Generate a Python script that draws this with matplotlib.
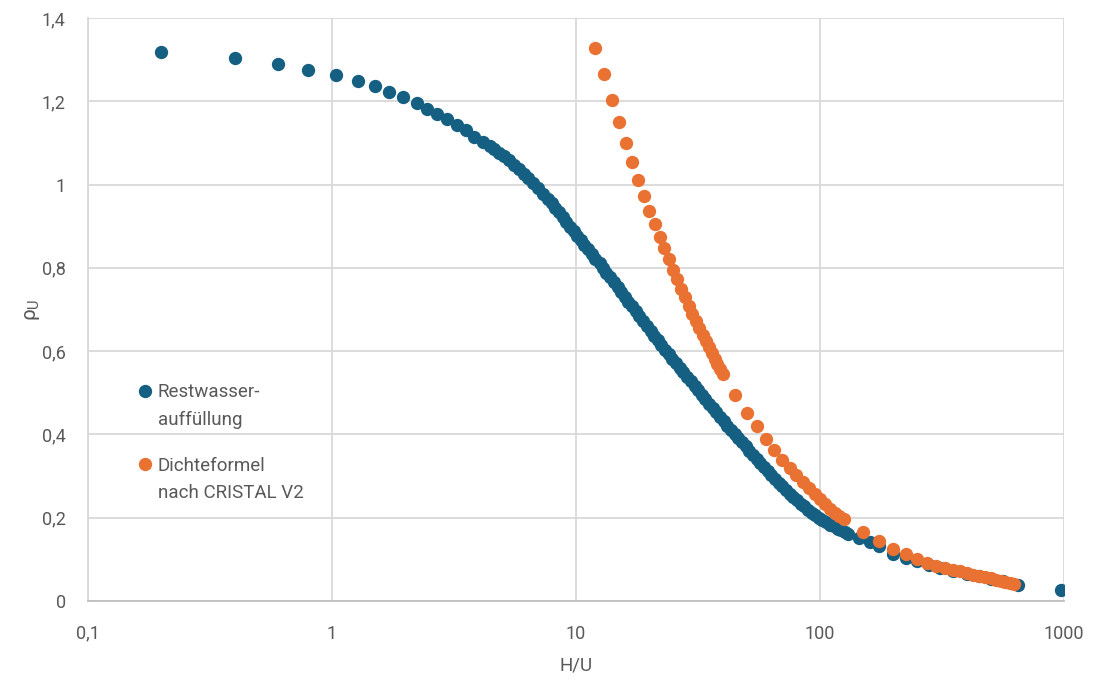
import matplotlib
matplotlib.use("Agg")
import matplotlib.pyplot as plt
from matplotlib.ticker import FuncFormatter, FixedLocator, NullLocator

# Restwasserauffuellung (blue)
x_rest = [0.2, 0.4, 0.6, 0.8, 1.04, 1.28, 1.5, 1.72, 1.95, 2.22, 2.46, 2.70, 2.97, 3.25,
          3.53, 3.82, 4.14, 4.42, 4.62, 4.84, 5.07, 5.31, 5.56, 5.82, 6.10, 6.38, 6.68,
          7.00, 7.33, 7.67, 7.94, 8.22, 8.51, 8.81, 9.12, 9.44, 9.77, 10.1, 10.5, 10.8,
          11.2, 11.6, 12.0, 12.5, 12.9, 13.3, 13.8, 14.3, 14.8, 15.3, 15.9, 16.4, 17.0,
          17.6, 18.2, 18.8, 19.5, 20.2, 20.9, 21.6, 22.4, 23.2, 24.0, 24.8, 25.7, 26.6,
          27.5, 28.5, 29.5, 30.6, 31.6, 32.7, 33.9, 35.1, 36.3, 37.6, 38.9, 40.3, 41.7,
          43.2, 44.7, 46.2, 47.9, 49.6, 51.3, 53.1, 55.0, 56.9, 58.9, 61.0, 63.1, 65.3,
          67.6, 70.0, 72.4, 75.0, 77.6, 80.4, 83.2, 86.1, 89.1, 92.3, 95.5, 98.9, 102,
          106, 110, 114, 118, 122, 126, 130, 145, 160, 175, 200, 225, 250, 280, 310, 350,
          400, 450, 500, 560, 650, 970]
y_rest = [1.318, 1.304, 1.290, 1.275, 1.263, 1.248, 1.237, 1.222, 1.210, 1.195, 1.182,
          1.170, 1.157, 1.143, 1.130, 1.115, 1.103, 1.093, 1.085, 1.076, 1.068, 1.058,
          1.048, 1.037, 1.026, 1.015, 1.003, 0.991, 0.978, 0.965, 0.955, 0.944, 0.933,
          0.922, 0.910, 0.899, 0.888, 0.876, 0.866, 0.855, 0.844, 0.833, 0.822, 0.811,
          0.799, 0.788, 0.777, 0.765, 0.754, 0.742, 0.731, 0.719, 0.708, 0.696, 0.684,
          0.673, 0.661, 0.649, 0.637, 0.626, 0.614, 0.603, 0.592, 0.582, 0.571, 0.560,
          0.549, 0.538, 0.528, 0.517, 0.506, 0.495, 0.484, 0.474, 0.463, 0.453, 0.442,
          0.432, 0.421, 0.411, 0.401, 0.391, 0.381, 0.371, 0.361, 0.351, 0.341, 0.331,
          0.321, 0.312, 0.302, 0.293, 0.284, 0.275, 0.266, 0.258, 0.250, 0.242, 0.234,
          0.227, 0.219, 0.212, 0.206, 0.199, 0.194, 0.189, 0.183, 0.179, 0.174, 0.170,
          0.166, 0.162, 0.151, 0.141, 0.132, 0.114, 0.104, 0.095, 0.086, 0.079, 0.072,
          0.065, 0.059, 0.053, 0.047, 0.039, 0.026]

# Dichteformel nach CRISTAL V2 (orange)
x_cristal = [12, 13, 14, 15, 16, 17, 18, 19, 20, 21, 22, 23, 24, 25, 26, 27, 28, 29, 30,
             31, 32, 33, 34, 35, 36, 37, 38, 39, 40, 45, 50, 55, 60, 65, 70, 75, 80, 85,
             90, 95, 100, 105, 110, 115, 120, 125, 150, 175, 200, 225, 250, 275, 300, 325,
             350, 375, 400, 425, 450, 475, 500, 525, 550, 575, 600, 625]
y_cristal = [1.329, 1.265, 1.203, 1.151, 1.099, 1.055, 1.011, 0.973, 0.937, 0.905, 0.875,
             0.847, 0.821, 0.795, 0.772, 0.750, 0.729, 0.709, 0.690, 0.672, 0.655, 0.639,
             0.624, 0.609, 0.595, 0.582, 0.569, 0.557, 0.545, 0.495, 0.452, 0.420, 0.390,
             0.363, 0.339, 0.320, 0.302, 0.286, 0.271, 0.257, 0.244, 0.232, 0.221, 0.211,
             0.203, 0.197, 0.165, 0.143, 0.126, 0.112, 0.101, 0.092, 0.085, 0.080, 0.075,
             0.071, 0.067, 0.063, 0.060, 0.057, 0.054, 0.051, 0.048, 0.045, 0.043, 0.040]

x_ticks = [0.1, 1, 10, 100, 1000]
y_ticks = [0, 0.2, 0.4, 0.6, 0.8, 1.0, 1.2, 1.4]

plt.rcParams['font.family'] = ['Roboto', 'DejaVu Sans']
plt.rcParams['mathtext.fontset'] = 'custom'
plt.rcParams['mathtext.rm'] = 'Roboto'
plt.rcParams['mathtext.it'] = 'Roboto'
text_col = '#595959'
grid_col = '#d9d9d9'

fig = plt.figure(figsize=(10.95, 6.8), dpi=100)
ax = fig.add_axes([0.0804, 0.1162, 0.8913, 0.8574])

ax.scatter(x_rest, y_rest, s=92, color='#156082', linewidths=0, label='Restwasser-\nauffüllung', zorder=3)
ax.scatter(x_cristal, y_cristal, s=92, color='#E97132', linewidths=0, label='Dichteformel\nnach CRISTAL V2', zorder=4)

ax.set_xscale('log')
ax.set_xlim(0.1, 1000)
ax.set_ylim(0, 1.4)
ax.xaxis.set_major_locator(FixedLocator(x_ticks))
ax.xaxis.set_minor_locator(NullLocator())
ax.yaxis.set_major_locator(FixedLocator(y_ticks))

def comma(v, pos):
    s = ('%g' % v)
    return s.replace('.', ',')

ax.xaxis.set_major_formatter(FuncFormatter(comma))
ax.yaxis.set_major_formatter(FuncFormatter(comma))

ax.grid(True, color=grid_col, linewidth=1.3)
ax.set_axisbelow(True)
for side in ['top', 'right']:
    ax.spines[side].set_visible(False)
ax.spines['left'].set_color(grid_col)
ax.spines['left'].set_linewidth(1.3)
ax.spines['bottom'].set_color('#bfbfbf')
ax.spines['bottom'].set_linewidth(1.3)
ax.tick_params(length=0, labelsize=13, labelcolor=text_col)
ax.tick_params(axis='x', pad=17)
ax.tick_params(axis='y', pad=16)

ax.set_xlabel('H/U', fontsize=13.5, color=text_col, labelpad=10)
ax.set_ylabel(r'$\rho_\mathrm{U}$', fontsize=15, color=text_col, labelpad=0)

leg = ax.legend(loc='upper left', bbox_to_anchor=(0.039, 0.386), frameon=False,
                fontsize=13.5, handletextpad=0.1, labelspacing=1.5, labelcolor=text_col,
                handlelength=1.2, borderaxespad=0, scatteryoffsets=[1.7])
for t in leg.get_texts():
    t.set_linespacing(1.65)

fig.savefig('out.png', dpi=100)
